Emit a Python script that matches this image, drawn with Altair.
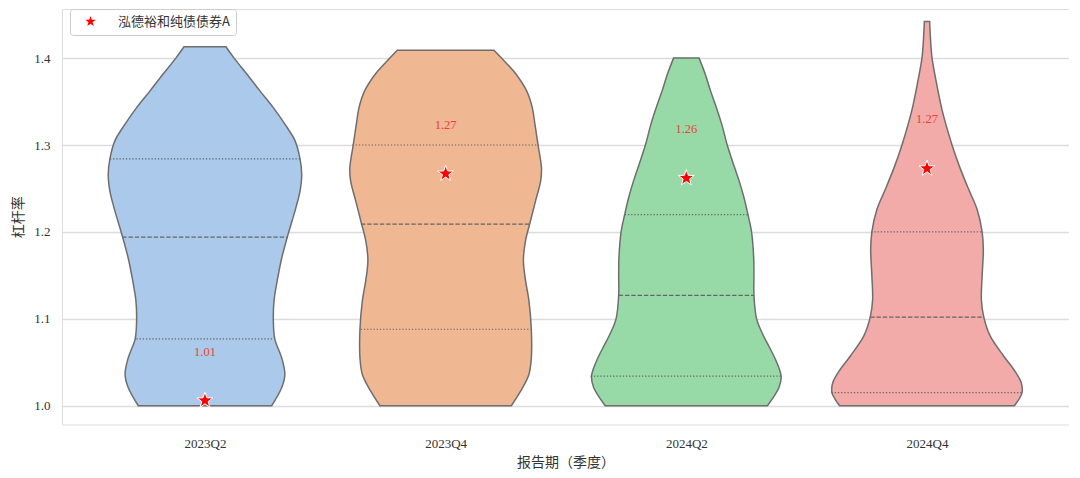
import math
import altair as alt
import pandas as pd

# ---------------- data ----------------
CATEGORIES = ["2023Q2", "2023Q4", "2024Q2", "2024Q4"]
COLORS = ["#abc9ea", "#efb792", "#98daa7", "#f2aba8"]

# violin outlines: levels (杠杆率) and half-widths (in category units)
V_2023Q2_Y = [1.000, 1.021, 1.036, 1.055, 1.077, 1.100, 1.121, 1.151, 1.170, 1.194,
              1.228, 1.247, 1.266, 1.284, 1.305, 1.324, 1.343, 1.362, 1.382, 1.400, 1.413]
V_2023Q2_W = [0.277, 0.319, 0.332, 0.319, 0.290, 0.284, 0.287, 0.305, 0.319, 0.342,
              0.378, 0.395, 0.402, 0.395, 0.374, 0.332, 0.284, 0.229, 0.173, 0.121, 0.087]

V_2023Q4_Y = [1.000, 1.017, 1.036, 1.055, 1.088, 1.121, 1.144, 1.167, 1.190, 1.210,
              1.236, 1.259, 1.274, 1.300, 1.324, 1.343, 1.362, 1.382, 1.400, 1.409]
V_2023Q4_W = [0.273, 0.312, 0.346, 0.356, 0.356, 0.346, 0.332, 0.323, 0.332, 0.350,
              0.374, 0.395, 0.398, 0.384, 0.371, 0.360, 0.337, 0.291, 0.232, 0.201]

V_2024Q2_Y = [1.000, 1.021, 1.034, 1.051, 1.067, 1.082, 1.100, 1.127, 1.151, 1.170,
              1.200, 1.220, 1.239, 1.259, 1.282, 1.300, 1.324, 1.343, 1.362, 1.382, 1.400]
V_2024Q2_W = [0.337, 0.385, 0.394, 0.374, 0.346, 0.318, 0.292, 0.281, 0.281, 0.280,
              0.271, 0.256, 0.240, 0.219, 0.191, 0.170, 0.147, 0.125, 0.101, 0.078, 0.053]

V_2024Q4_Y = [1.000, 1.007, 1.015, 1.027, 1.042, 1.057, 1.080, 1.102, 1.122, 1.149,
              1.180, 1.200, 1.226, 1.249, 1.276, 1.300, 1.341, 1.372, 1.400, 1.420, 1.442]
V_2024Q4_W = [0.363, 0.381, 0.395, 0.391, 0.360, 0.319, 0.263, 0.236, 0.226, 0.229,
              0.234, 0.229, 0.208, 0.173, 0.134, 0.104, 0.062, 0.039, 0.021, 0.015, 0.011]

# quartile lines (value, half-width)
Q1_VAL = [1.077, 1.088, 1.034, 1.015]
Q1_W = [0.285, 0.353, 0.397, 0.397]
MED_VAL = [1.194, 1.209, 1.127, 1.102]
MED_W = [0.344, 0.352, 0.281, 0.236]
Q3_VAL = [1.284, 1.300, 1.220, 1.200]
Q3_W = [0.395, 0.387, 0.256, 0.232]

# fund markers
FUND_NAME = "泓德裕和纯债债券A"
FUND_VAL = [1.006, 1.267, 1.262, 1.273]

X_TITLE = "报告期（季度）"
Y_TITLE = "杠杆率"
Y_TICKS = [1.0, 1.1, 1.2, 1.3, 1.4]

# ---------------- build tables ----------------
violins = [(V_2023Q2_Y, V_2023Q2_W), (V_2023Q4_Y, V_2023Q4_W),
           (V_2024Q2_Y, V_2024Q2_W), (V_2024Q4_Y, V_2024Q4_W)]
rows = []
for i, (ys, ws) in enumerate(violins):
    for y, w in zip(ys, ws):
        rows.append({"cat": CATEGORIES[i], "y": y, "lo": i - w, "hi": i + w})
vdf = pd.DataFrame(rows)


def qframe(vals, ws):
    return pd.DataFrame({"cat": CATEGORIES, "y": vals,
                         "lo": [i - w for i, w in enumerate(ws)],
                         "hi": [i + w for i, w in enumerate(ws)]})


qdf = pd.concat([qframe(Q1_VAL, Q1_W), qframe(Q3_VAL, Q3_W)], ignore_index=True)
mdf = qframe(MED_VAL, MED_W)
sdf = pd.DataFrame({"x": list(range(len(CATEGORIES))), "v": FUND_VAL,
                    "name": [FUND_NAME] * len(CATEGORIES)})

# five-pointed star symbol path (unit radius)
pts = []
for k in range(10):
    ang = math.radians(-90 + 36 * k)
    r = 1.0 if k % 2 == 0 else 0.40
    pts.append(f"{r * math.cos(ang):.3f},{r * math.sin(ang):.3f}")
STAR = "M" + " L".join(pts) + " Z"

SERIF = "'Liberation Serif', 'Noto Sans CJK SC'"
CJK = "'Noto Sans CJK SC'"

W, H = 1007, 415.5
x_scale = alt.Scale(domain=[-0.594, 3.59], nice=False, zero=False)
y_scale = alt.Scale(domain=[0.9784, 1.4565], nice=False, zero=False)

label_expr = "[" + ",".join(f"'{c}'" for c in CATEGORIES) + "][datum.value]"

x_axis = alt.Axis(values=list(range(len(CATEGORIES))), labelExpr=label_expr,
                  grid=False, ticks=False, domain=False, labelPadding=13,
                  labelFont=SERIF, labelFontSize=13, labelColor="#333333",
                  title=X_TITLE, titleFont=CJK, titleFontSize=14,
                  titleFontWeight="normal", titleColor="#333333",
                  titlePadding=5)
y_axis = alt.Axis(values=Y_TICKS, format=".1f", grid=True, gridColor="#dcdcdc",
                  gridWidth=1.3, ticks=False, domain=False, labelPadding=12,
                  labelFont=SERIF, labelFontSize=13, labelColor="#333333",
                  title=Y_TITLE, titleFont=CJK, titleFontSize=14,
                  titleFontWeight="normal", titleColor="#333333",
                  titlePadding=8)

area = alt.Chart(vdf).mark_area(orient="horizontal", interpolate="catmull-rom",
                                stroke="#6e6e6e", strokeWidth=1.5, opacity=1).encode(
    y=alt.Y("y:Q", scale=y_scale, axis=y_axis),
    x=alt.X("lo:Q", scale=x_scale, axis=x_axis),
    x2="hi:Q",
    color=alt.Color("cat:N", scale=alt.Scale(domain=CATEGORIES, range=COLORS), legend=None),
)

quart = alt.Chart(qdf).mark_rule(color="#666666", strokeWidth=1.2,
                                 strokeDash=[1.3, 1.9]).encode(
    y="y:Q", x="lo:Q", x2="hi:Q")
med = alt.Chart(mdf).mark_rule(color="#666666", strokeWidth=1.2,
                               strokeDash=[4.4, 1.9]).encode(
    y="y:Q", x="lo:Q", x2="hi:Q")

stars = alt.Chart(sdf).mark_point(shape=STAR, filled=True, size=280, opacity=1,
                                  stroke="white", strokeWidth=1).encode(
    x="x:Q", y="v:Q",
    fill=alt.Fill("name:N", scale=alt.Scale(domain=[FUND_NAME], range=["#ff0000"]),
                  legend=alt.Legend(title=None, orient="none", legendX=8, legendY=0,
                                    symbolType=STAR, symbolSize=120,
                                    symbolStrokeWidth=0, symbolOffset=8,
                                    labelOffset=21, labelFont=CJK, labelFontSize=13,
                                    labelColor="#333333", padding=6,
                                    fillColor="white", strokeColor="#cccccc",
                                    cornerRadius=3)),
)

labels = alt.Chart(sdf).mark_text(dy=-49, color="#f03c3c", font=SERIF, fontSize=12.5,
                                  baseline="middle").encode(
    x="x:Q", y="v:Q", text=alt.Text("v:Q", format=".2f"))

chart = alt.layer(area, quart, med, stars, labels).properties(
    width=W, height=H, padding={"left": 3, "top": 0, "right": 0, "bottom": 0}
).configure_view(stroke="#cccccc", strokeWidth=1.8).configure(background="white")

chart.save("out.html", embed_options={"renderer": "svg", "actions": False})
